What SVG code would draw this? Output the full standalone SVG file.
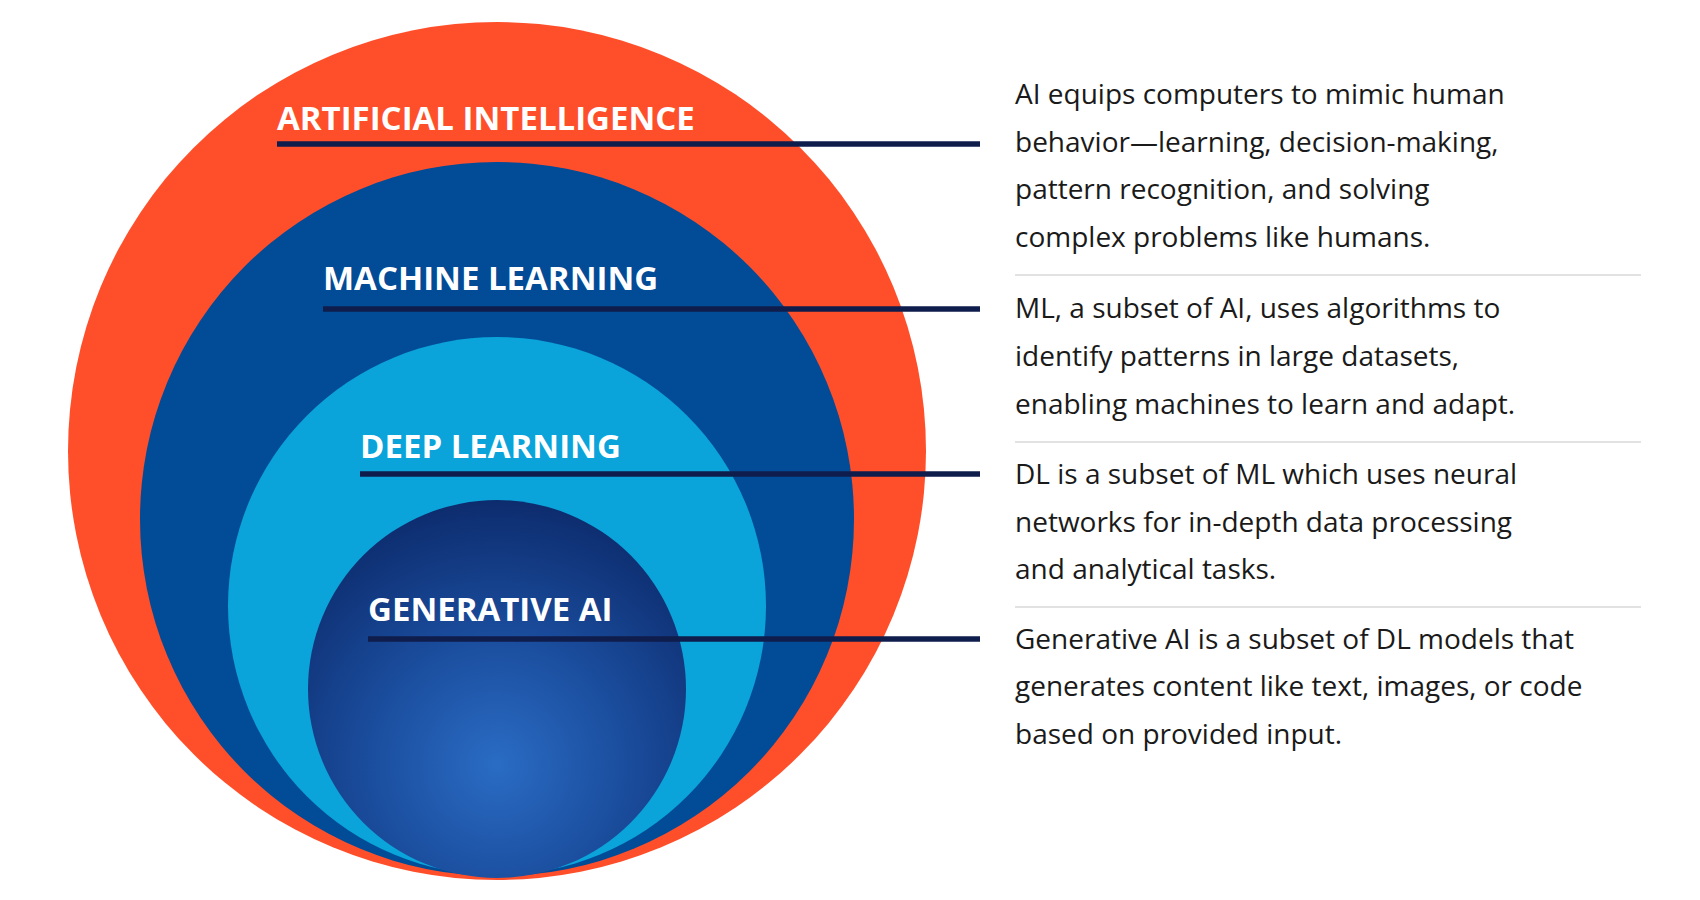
<svg xmlns="http://www.w3.org/2000/svg" width="1700" height="900" viewBox="0 0 1700 900">
<style>
.lbl{font-family:"Open Sans","Noto Sans",sans-serif;font-weight:700;font-size:33px;fill:#fff}
.desc{font-family:"Open Sans","Noto Sans",sans-serif;font-size:28px;fill:#1a1a1a}
.conn{stroke:#0f1d4d;stroke-width:5.5}
.sep{stroke:#d8d8d8;stroke-width:1.5}
</style>
<defs>
<radialGradient id="gen" cx="0.5" cy="0.7" r="0.7">
<stop offset="0" stop-color="#2a6cc4"/><stop offset="0.5" stop-color="#1a4c9c"/><stop offset="1" stop-color="#0d2c6e"/>
</radialGradient>
</defs>
<rect width="1700" height="900" fill="#fff"/>
<g id="ai"><circle cx="497" cy="451" r="429" fill="#ff4f2a"/><text class="lbl" x="277" y="130">ARTIFICIAL INTELLIGENCE</text></g>
<g id="ml"><circle cx="497" cy="519" r="357" fill="#024b97"/><text class="lbl" x="323" y="290">MACHINE LEARNING</text></g>
<g id="dl"><circle cx="497" cy="606" r="269" fill="#0aa3da"/><text class="lbl" x="360" y="458">DEEP LEARNING</text></g>
<g id="gen-ai"><circle cx="497" cy="689" r="189" fill="url(#gen)"/><text class="lbl" x="368" y="621">GENERATIVE AI</text></g>
<g id="connectors">
<line class="conn" x1="277" y1="144" x2="980" y2="144"/>
<line class="conn" x1="323" y1="309" x2="980" y2="309"/>
<line class="conn" x1="360" y1="474" x2="980" y2="474"/>
<line class="conn" x1="368" y1="639" x2="980" y2="639"/>
</g>
<g id="descriptions">
<text class="desc" x="1015" y="104">AI equips computers to mimic human</text>
<text class="desc" x="1015" y="152">behavior—learning, decision-making,</text>
<text class="desc" x="1015" y="199">pattern recognition, and solving</text>
<text class="desc" x="1015" y="247">complex problems like humans.</text>
<line class="sep" x1="1015" y1="275" x2="1641" y2="275"/>
<text class="desc" x="1015" y="318">ML, a subset of AI, uses algorithms to</text>
<text class="desc" x="1015" y="366">identify patterns in large datasets,</text>
<text class="desc" x="1015" y="414">enabling machines to learn and adapt.</text>
<line class="sep" x1="1015" y1="442" x2="1641" y2="442"/>
<text class="desc" x="1015" y="484">DL is a subset of ML which uses neural</text>
<text class="desc" x="1015" y="532">networks for in-depth data processing</text>
<text class="desc" x="1015" y="579">and analytical tasks.</text>
<line class="sep" x1="1015" y1="607" x2="1641" y2="607"/>
<text class="desc" x="1015" y="649">Generative AI is a subset of DL models that</text>
<text class="desc" x="1015" y="696">generates content like text, images, or code</text>
<text class="desc" x="1015" y="744">based on provided input.</text>
</g>
</svg>
